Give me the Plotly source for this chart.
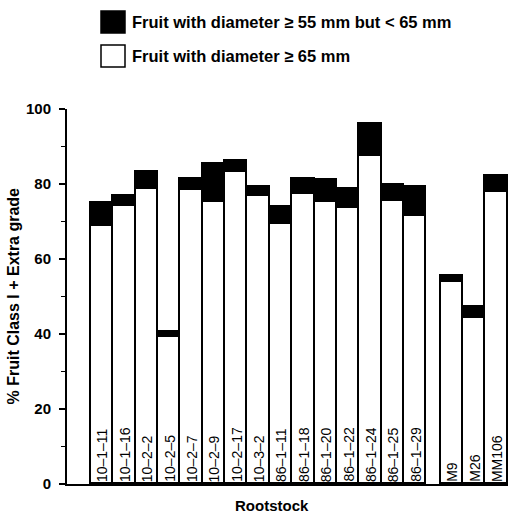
import plotly.graph_objects as go

# ---- data ----
rootstocks = ["10–1–11", "10–1–16", "10–2–2", "10–2–5", "10–2–7", "10–2–9", "10–2–17",
              "10–3–2", "86–1–11", "86–1–18", "86–1–20", "86–1–22", "86–1–24",
              "86–1–25", "86–1–29", "M9", "M26", "MM106"]
group = [0] * 15 + [1] * 3          # selections vs. standard rootstocks
fruit_ge65 = [68.8, 74.1, 78.7, 39.2, 78.3, 75.1, 83.1, 76.9, 69.3, 77.3, 75.1,
              73.6, 87.5, 75.5, 71.5, 53.8, 44.4, 77.8]
fruit_55_65 = [6.2, 2.8, 4.6, 1.4, 3.0, 10.2, 3.0, 2.4, 4.5, 4.1, 6.0,
               5.1, 8.6, 4.3, 7.8, 1.7, 2.9, 4.3]
y_ticks = [0, 20, 40, 60, 80, 100]
legend_labels = ["Fruit with diameter ≥ 55 mm but < 65 mm",
                 "Fruit with diameter ≥ 65 mm"]

# ---- layout helpers ----
W, H = 509, 514
L, R, T, B = 67, 1, 109, 30
PW, PH = W - L - R, H - T - B
GROUP_GAP = 0.64


def px_x(px):
    return (px - L) / PW


def px_y(py):
    return (H - B - py) / PH


positions = [i + g * GROUP_GAP for i, g in enumerate(group)]

FONT = "Liberation Sans, Arial, Helvetica, sans-serif"

fig = go.Figure()
fig.add_trace(go.Bar(
    x=positions, y=fruit_ge65, name=legend_labels[1], width=1,
    marker=dict(color="white", line=dict(color="black", width=1.6)),
    showlegend=False, hoverinfo="skip"))
fig.add_trace(go.Bar(
    x=positions, y=fruit_55_65, name=legend_labels[0], width=1,
    marker=dict(color="black", line=dict(color="black", width=1.6)),
    showlegend=False, hoverinfo="skip"))

annotations = []
for xp, lab in zip(positions, rootstocks):
    annotations.append(dict(
        x=xp, y=0, xref="x", yref="y", text=lab, textangle=-90,
        xanchor="center", yanchor="bottom", showarrow=False, yshift=0,
        font=dict(family=FONT, size=14, color="black")))

# axis titles
annotations.append(dict(
    x=px_x(13), y=0.5, xref="paper", yref="paper",
    text="% Fruit Class I + Extra grade", textangle=-90, showarrow=False,
    xanchor="center", yanchor="middle",
    font=dict(family=FONT, size=16, color="black", weight="bold")))
annotations.append(dict(
    x=px_x(272), y=px_y(505), xref="paper", yref="paper",
    text="Rootstock", showarrow=False, xanchor="center", yanchor="middle",
    font=dict(family=FONT, size=15, color="black", weight="bold")))

# legend (drawn manually for large swatches)
shapes = []
swatch_fill = ["black", "white"]
swatch_top = [11, 45]
for lab, fill, top in zip(legend_labels, swatch_fill, swatch_top):
    shapes.append(dict(type="rect", xref="paper", yref="paper",
                       x0=px_x(101), x1=px_x(125), y0=px_y(top + 22), y1=px_y(top),
                       fillcolor=fill, line=dict(color="black", width=1.5)))
    annotations.append(dict(
        x=px_x(130), y=px_y(top + 11), xref="paper", yref="paper", text=lab,
        showarrow=False, xanchor="left", yanchor="middle",
        font=dict(family=FONT, size=16.5, color="black", weight="bold")))

fig.update_layout(
    width=W, height=H, barmode="stack", bargap=0,
    margin=dict(l=L, r=R, t=T, b=B, pad=0),
    plot_bgcolor="white", paper_bgcolor="white",
    showlegend=False, annotations=annotations, shapes=shapes,
    xaxis=dict(range=[-1.57, 18.15], showgrid=False, zeroline=False,
               showticklabels=False, ticks="", showline=True,
               linecolor="black", linewidth=2, fixedrange=True),
    yaxis=dict(range=[0, 100], tickvals=y_ticks, showgrid=False, zeroline=False,
               showline=True, linecolor="black", linewidth=2,
               ticks="outside", ticklen=6, tickwidth=1.5, tickcolor="black",
               ticklabelstandoff=5,
               minor=dict(dtick=10, ticks="outside", ticklen=4, tickwidth=1,
                          tickcolor="black"),
               tickfont=dict(family=FONT, size=15, color="black", weight="bold"),
               fixedrange=True),
)

fig.write_html("out.html", config={"displayModeBar": False},
               post_script="document.body.style.margin='0';"
                           "document.body.style.overflow='hidden';")
